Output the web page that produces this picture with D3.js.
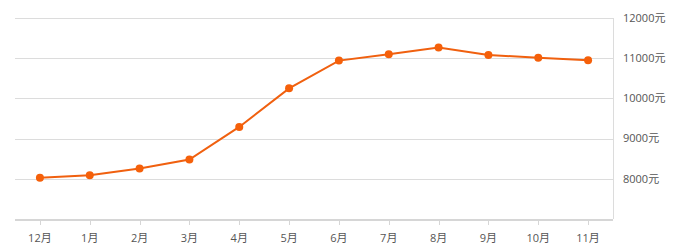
<!DOCTYPE html>
<html>
<head>
<meta charset="utf-8">
<script src="https://cdn.jsdelivr.net/npm/d3@7"></script>
<style>
    body { margin: 0; background: #fff; }
    text { font-family: "Open Sans", "Noto Sans CJK SC", sans-serif; font-size: 11px; fill: #555; }
</style>
</head>
<body>
<div id="plot"></div>
<script>
const months = ["12月", "1月", "2月", "3月", "4月", "5月", "6月", "7月", "8月", "9月", "10月", "11月"];
const prices = [8025, 8090, 8255, 8480, 9290, 10250, 10940, 11100, 11265, 11080, 11010, 10950];
const yTicks = [8000, 9000, 10000, 11000, 12000];

const width = 683, height = 252;
const margin = { top: 18, right: 70, bottom: 33, left: 15 };
const w = width - margin.left - margin.right;
const h = height - margin.top - margin.bottom;

const svg = d3.select("#plot").append("svg")
    .attr("width", width)
    .attr("height", height);

const g = svg.append("g")
    .attr("transform", "translate(" + margin.left + "," + margin.top + ")");

const x = d3.scaleBand().domain(months).range([0, w]);
const y = d3.scaleLinear().domain([7000, 12000]).range([h, 0]);

// grid
g.append("g")
    .selectAll("line")
    .data(yTicks)
    .join("line")
    .attr("x1", 0)
    .attr("x2", w)
    .attr("y1", d => Math.round(y(d)) + 0.5)
    .attr("y2", d => Math.round(y(d)) + 0.5)
    .attr("stroke", "#dcdcdc")
    .attr("stroke-width", 1);

// right border
g.append("line")
    .attr("x1", w + 0.5).attr("x2", w + 0.5)
    .attr("y1", y(12000)).attr("y2", h)
    .attr("stroke", "#dcdcdc");

// y labels
g.append("g")
    .selectAll("text")
    .data(yTicks)
    .join("text")
    .attr("x", w + 10)
    .attr("y", d => y(d))
    .attr("dy", "0.35em")
    .text(d => d + "元");

// bottom axis
g.append("line")
    .attr("x1", 0).attr("x2", w)
    .attr("y1", h + 1).attr("y2", h + 1)
    .attr("stroke", "#d6d6d6")
    .attr("stroke-width", 2);

g.append("g")
    .selectAll("line")
    .data(months)
    .join("line")
    .attr("x1", d => Math.round(x(d) + x.bandwidth() / 2) + 0.5)
    .attr("x2", d => Math.round(x(d) + x.bandwidth() / 2) + 0.5)
    .attr("y1", h + 2)
    .attr("y2", h + 6)
    .attr("stroke", "#d6d6d6");

g.append("g")
    .selectAll("text")
    .data(months)
    .join("text")
    .attr("x", d => x(d) + x.bandwidth() / 2)
    .attr("y", h + 19)
    .attr("dy", "0.35em")
    .attr("text-anchor", "middle")
    .text(d => d);

// line
const line = d3.line()
    .x((d, i) => x(months[i]) + x.bandwidth() / 2)
    .y(d => y(d));

g.append("path")
    .datum(prices)
    .attr("d", line)
    .attr("fill", "none")
    .attr("stroke", "#f0600f")
    .attr("stroke-width", 2);

g.append("g")
    .selectAll("circle")
    .data(prices)
    .join("circle")
    .attr("cx", (d, i) => x(months[i]) + x.bandwidth() / 2)
    .attr("cy", d => y(d))
    .attr("r", 4)
    .attr("fill", "#f5600a");
</script>
</body>
</html>
